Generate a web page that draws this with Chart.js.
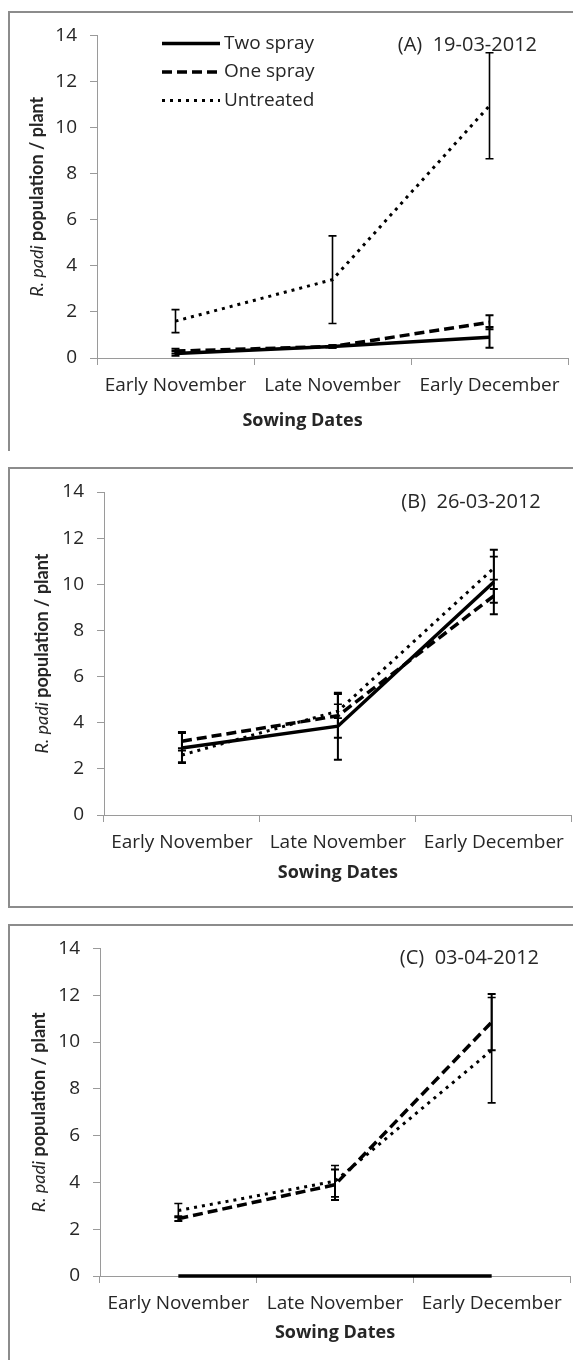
<!DOCTYPE html>
<html>
<head>
<meta charset="utf-8">
<script src="https://cdn.jsdelivr.net/npm/chart.js@4.4.1/dist/chart.umd.min.js"></script>
<style>
  body { margin: 0; background: #fff; width: 573px; height: 1360px; position: relative; overflow: hidden; }
  .panel { position: absolute; left: 8px; width: 620px; border: 2px solid #8c8c8c; box-sizing: border-box; }
  canvas { position: absolute; left: 0; }
</style>
</head>
<body>
<div class="panel" style="top:11px;height:440px;border-bottom:none"></div>
<div class="panel" style="top:467px;height:441px"></div>
<div class="panel" style="top:924px;height:480px"></div>
<canvas id="chartA" width="573" height="440" style="top:11px"></canvas>
<canvas id="chartB" width="573" height="441" style="top:467px"></canvas>
<canvas id="chartC" width="573" height="436" style="top:924px"></canvas>
<script>
// categories / series
const sowingDates = ["Early November", "Late November", "Early December"];
const seriesNames = ["Two spray", "One spray", "Untreated"];
const yMin = 0, yMax = 14, yStep = 2;

// (A) 19-03-2012
const twoSprayA = [0.2, 0.5, 0.9];
const oneSprayA = [0.3, 0.5, 1.55];
const untreatedA = [1.6, 3.4, 10.95];
const twoSprayErrA = [0.1, 0.05, 0.45];
const oneSprayErrA = [0.1, 0.05, 0.3];
const untreatedErrA = [0.5, 1.9, 2.3];

// (B) 26-03-2012
const twoSprayB = [2.9, 3.85, 10.1];
const oneSprayB = [3.2, 4.3, 9.5];
const untreatedB = [2.6, 4.5, 10.7];
const twoSprayErrB = [0.65, 1.45, 1.4];
const oneSprayErrB = [0.4, 0.95, 0.3];
const untreatedErrB = [0.3, 0.3, 0.5];

// (C) 03-04-2012
const twoSprayC = [0, 0, 0];
const oneSprayC = [2.45, 3.9, 10.85];
const untreatedC = [2.8, 4.05, 9.65];
const twoSprayErrC = [0, 0, 0];
const oneSprayErrC = [0.1, 0.65, 1.2];
const untreatedErrC = [0.3, 0.67, 2.25];

const TXT = "#262626";
const AXIS = "#9a9a9a";

// vertical error bars, drawn on the y scale of each chart
const errorBars = {
  id: "errorBars",
  afterDatasetsDraw(chart) {
    const ctx = chart.ctx, y = chart.scales.y;
    chart.data.datasets.forEach((ds, i) => {
      const meta = chart.getDatasetMeta(i);
      ds.errors.forEach((e, j) => {
        if (!e) return;
        const x = meta.data[j].x, v = ds.data[j];
        const top = y.getPixelForValue(v + e), bot = y.getPixelForValue(v - e);
        ctx.save();
        ctx.strokeStyle = "#000";
        ctx.lineWidth = ds.errWidth;
        ctx.setLineDash([]);
        ctx.beginPath();
        ctx.moveTo(x, top); ctx.lineTo(x, bot);
        ctx.moveTo(x - 4, top); ctx.lineTo(x + 4, top);
        ctx.moveTo(x - 4, bot); ctx.lineTo(x + 4, bot);
        ctx.stroke();
        ctx.restore();
      });
    });
  }
};

// panel tag, axis titles and the legend
const panelText = {
  id: "panelText",
  afterDraw(chart, args, opts) {
    const ctx = chart.ctx, a = chart.chartArea;
    ctx.save();
    ctx.fillStyle = TXT;
    ctx.textBaseline = "middle";

    ctx.font = '20px "Open Sans"';
    ctx.textAlign = "right";
    ctx.fillText(opts.tag, a.right - 31, a.top + 10);

    ctx.font = 'bold 18px "Open Sans"';
    ctx.textAlign = "center";
    ctx.fillText("Sowing Dates", (a.left + a.right) / 2 + opts.xTitleShift, a.bottom + opts.xTitleGap);

    if (opts.legend) {
      chart.data.datasets.forEach((ds, i) => {
        const ly = a.top + 8 + i * 28.5;
        ctx.save();
        ctx.strokeStyle = "#000";
        ctx.lineWidth = ds.borderWidth;
        ctx.setLineDash(ds.borderDash);
        ctx.beginPath();
        ctx.moveTo(a.left + 65, ly);
        ctx.lineTo(a.left + 123, ly);
        ctx.stroke();
        ctx.restore();
        ctx.font = '19px "Open Sans"';
        ctx.textAlign = "left";
        ctx.fillText(ds.label, a.left + 127, ly);
      });
    }

    // y title: "R. padi" italic, rest bold
    ctx.translate(opts.yTitleX, (a.top + a.bottom) / 2);
    ctx.rotate(-Math.PI / 2);
    const p1 = "R. padi", p2 = " population / plant";
    ctx.font = "italic 18px Lato";
    const w1 = ctx.measureText(p1).width;
    ctx.font = "bold 18px Lato";
    const w2 = ctx.measureText(p2).width;
    const x0 = -(w1 + w2) / 2;
    ctx.textAlign = "left";
    ctx.font = "italic 18px Lato";
    ctx.fillText(p1, x0, 0);
    ctx.font = "bold 18px Lato";
    ctx.fillText(p2, x0 + w1, 0);
    ctx.restore();
  }
};

function makePanel(id, g, two, one, untr, twoErr, oneErr, untrErr) {
  const xH = 40;
  const cnv = document.getElementById(id);
  new Chart(cnv, {
    type: "line",
    data: {
      labels: sowingDates,
      datasets: [
        { label: seriesNames[0], data: two, errors: twoErr, errWidth: 2, borderColor: "#000", borderWidth: 3.5, borderDash: [], pointRadius: 0, tension: 0, clip: false },
        { label: seriesNames[1], data: one, errors: oneErr, errWidth: 2, borderColor: "#000", borderWidth: 3.5, borderDash: [10, 5], pointRadius: 0, tension: 0, clip: false },
        { label: seriesNames[2], data: untr, errors: untrErr, errWidth: 1.6, borderColor: "#000", borderWidth: 3, borderDash: [3, 5], pointRadius: 0, tension: 0, clip: false }
      ]
    },
    options: {
      responsive: false,
      animation: false,
      devicePixelRatio: 1,
      layout: {
        padding: { left: 0, right: 573 - g.x1, top: g.y14 - g.top, bottom: cnv.height - (g.y0 - g.top) - xH }
      },
      plugins: {
        legend: { display: false },
        tooltip: { enabled: false },
        panelText: { tag: g.tag, legend: g.legend, xTitleShift: g.xTitleShift, xTitleGap: g.xTitleGap, yTitleX: g.yTitleX }
      },
      scales: {
        x: {
          offset: true,
          grid: { drawOnChartArea: false, drawTicks: true, tickLength: 7, color: AXIS, offset: true },
          border: { color: AXIS, width: 1 },
          ticks: { color: TXT, padding: 9, maxRotation: 0, font: { family: "Open Sans", size: 19 } },
          afterFit: s => { s.height = xH; }
        },
        y: {
          min: yMin, max: yMax,
          grid: { drawOnChartArea: false, drawTicks: true, tickLength: 7, color: AXIS },
          border: { color: AXIS, width: 1 },
          ticks: { stepSize: yStep, color: TXT, padding: 13, font: { family: "Open Sans", size: 19 } },
          afterFit: s => { s.width = g.x0; }
        }
      }
    },
    plugins: [errorBars, panelText]
  });
}

makePanel("chartA", { top: 11, x0: 97, x1: 568, y14: 34, y0: 358, tag: "(A)  19-03-2012", legend: true, xTitleShift: -30, xTitleGap: 63, yTitleX: 37 },
  twoSprayA, oneSprayA, untreatedA, twoSprayErrA, oneSprayErrA, untreatedErrA);
makePanel("chartB", { top: 467, x0: 104, x1: 572, y14: 492, y0: 815, tag: "(B)  26-03-2012", legend: false, xTitleShift: 0, xTitleGap: 58, yTitleX: 42 },
  twoSprayB, oneSprayB, untreatedB, twoSprayErrB, oneSprayErrB, untreatedErrB);
makePanel("chartC", { top: 924, x0: 100, x1: 570, y14: 947, y0: 1276, tag: "(C)  03-04-2012", legend: false, xTitleShift: 0, xTitleGap: 57, yTitleX: 39 },
  twoSprayC, oneSprayC, untreatedC, twoSprayErrC, oneSprayErrC, untreatedErrC);
</script>
</body>
</html>
